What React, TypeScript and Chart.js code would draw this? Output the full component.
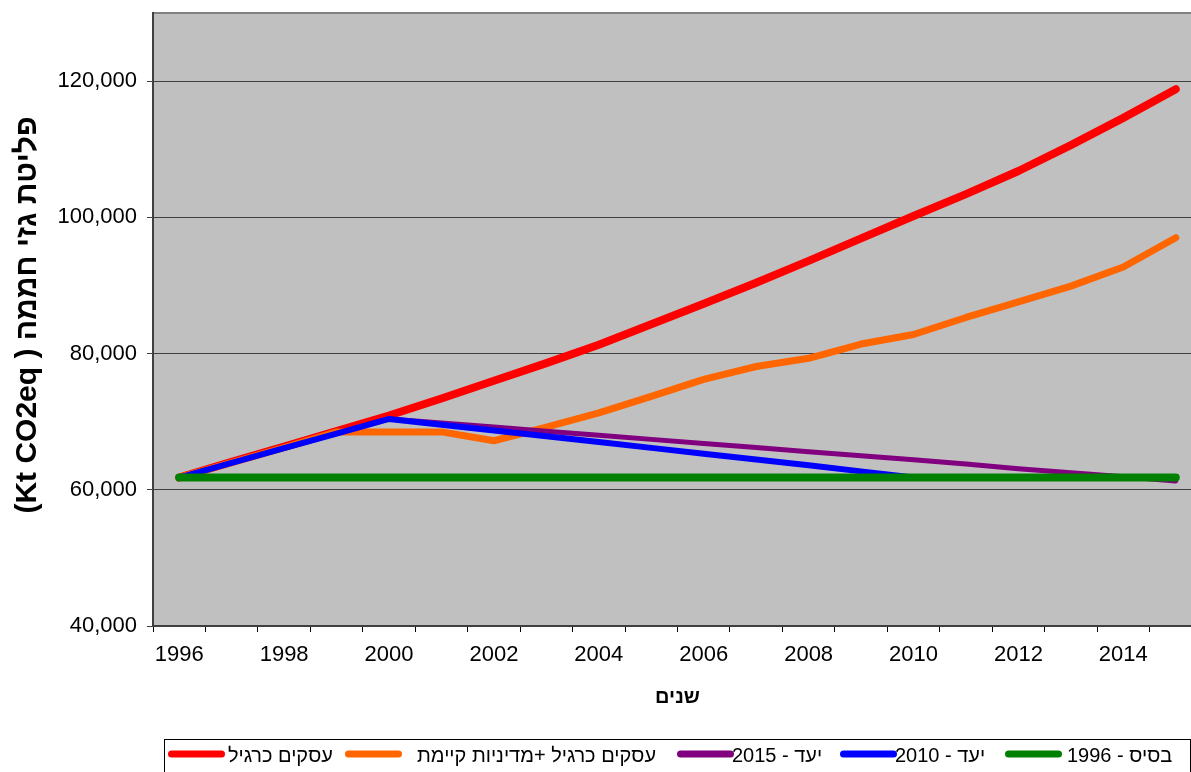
import React, { useEffect, useRef } from 'react';
import { Chart, registerables } from 'chart.js';

Chart.register(...registerables);

// ---- data ----
const years = ['1996', '1997', '1998', '1999', '2000', '2001', '2002', '2003', '2004', '2005',
  '2006', '2007', '2008', '2009', '2010', '2011', '2012', '2013', '2014', '2015'];

const bauValues = [61800, 64100, 66350, 68600, 70900, 73400, 76000, 78600, 81300, 84300,
  87300, 90400, 93600, 96900, 100200, 103400, 106800, 110600, 114600, 118800];

const bauPolicyValues = [61800, 64000, 66200, 68500, 68500, 68500, 67200, 69200, 71300, 73700,
  76200, 78100, 79300, 81400, 82800, 85300, 87600, 89900, 92700, 97000];

const target2015Values = [61800, 63950, 66100, 68250, 70400, 69800, 69200, 68600, 68000, 67400,
  66800, 66200, 65600, 65000, 64400, 63800, 63100, 62500, 61900, 61300];

const target2010Values = [61800, 63950, 66100, 68250, 70400, 69550, 68700, 67850, 67000, 66150,
  65300, 64450, 63600, 62700, 61800, 61800, 61800, 61800, 61800, 61800];

const base1996Values = [61800, 61800, 61800, 61800, 61800, 61800, 61800, 61800, 61800, 61800,
  61800, 61800, 61800, 61800, 61800, 61800, 61800, 61800, 61800, 61800];

const yTickValues = [40000, 60000, 80000, 100000, 120000];

const seriesLabels = ['עסקים כרגיל', 'עסקים כרגיל +מדיניות קיימת', 'יעד - 2015', 'יעד - 2010', 'בסיס - 1996'];
const yTitle = 'פליטת גזי חממה ( Kt CO2eq)';
const xTitle = 'שנים';

const FONT = '"Liberation Sans", Arial, sans-serif';

// legend layout (pixel positions of swatches and texts)
const legendSwatchX = [168, 345, 677, 840, 1005];
const legendTextX = [228, 417, 732, 895, 1067];

const decorPlugin = {
  id: 'decor',
  beforeDraw(chart: any) {
    const { ctx, chartArea } = chart;
    ctx.save();
    ctx.fillStyle = '#C0C0C0';
    ctx.fillRect(chartArea.left, chartArea.top, chartArea.right - chartArea.left, chartArea.bottom - chartArea.top);
    ctx.strokeStyle = '#808080';
    ctx.lineWidth = 2;
    ctx.strokeRect(chartArea.left, chartArea.top, chartArea.right - chartArea.left, chartArea.bottom - chartArea.top);
    ctx.restore();
  },
  afterDraw(chart: any) {
    const { ctx, chartArea } = chart;
    ctx.save();
    ctx.direction = 'rtl';
    ctx.fillStyle = '#000';
    ctx.font = 'bold 30px ' + FONT;
    ctx.textAlign = 'center';
    ctx.textBaseline = 'middle';
    ctx.translate(28, 315);
    ctx.rotate(-Math.PI / 2);
    ctx.fillText(yTitle, 0, 0);
    ctx.restore();

    ctx.save();
    ctx.direction = 'rtl';
    ctx.fillStyle = '#000';
    ctx.font = 'bold 20px ' + FONT;
    ctx.textAlign = 'center';
    ctx.textBaseline = 'middle';
    ctx.fillText(xTitle, (chartArea.left + chartArea.right) / 2, 697);
    ctx.restore();

    // legend
    ctx.save();
    ctx.fillStyle = '#fff';
    ctx.fillRect(164.5, 739.5, 1026, 50);
    ctx.strokeStyle = '#000';
    ctx.lineWidth = 1;
    ctx.strokeRect(164.5, 739.5, 1026, 50);
    ctx.font = '20px ' + FONT;
    ctx.direction = 'rtl';
    ctx.textAlign = 'left';
    ctx.textBaseline = 'middle';
    const ds = chart.data.datasets;
    for (let i = 0; i < ds.length; i++) {
      const x = legendSwatchX[i];
      ctx.strokeStyle = ds[i].borderColor;
      ctx.lineWidth = 7;
      ctx.lineCap = 'round';
      ctx.beginPath();
      ctx.moveTo(x + 3.5, 754);
      ctx.lineTo(x + 57 - 3.5, 754);
      ctx.stroke();
      ctx.fillStyle = '#000';
      ctx.fillText(ds[i].label, legendTextX[i], 756);
    }
    ctx.restore();
  },
};

export default function App() {
  const ref = useRef<HTMLCanvasElement>(null);
  useEffect(() => {
    const common = {
      pointRadius: 0,
      pointHoverRadius: 0,
      pointHitRadius: 0,
      tension: 0,
      fill: false,
      borderCapStyle: 'round' as const,
      borderJoinStyle: 'round' as const,
    };
    const chart = new Chart(ref.current!, {
      type: 'line',
      data: {
        labels: years,
        datasets: [
          { ...common, label: seriesLabels[0], data: bauValues, borderColor: '#FF0000', borderWidth: 8, order: 5 },
          { ...common, label: seriesLabels[1], data: bauPolicyValues, borderColor: '#FF6600', borderWidth: 7, order: 4 },
          { ...common, label: seriesLabels[2], data: target2015Values, borderColor: '#800080', borderWidth: 5, order: 3 },
          { ...common, label: seriesLabels[3], data: target2010Values, borderColor: '#0000FF', borderWidth: 6, order: 2 },
          { ...common, label: seriesLabels[4], data: base1996Values, borderColor: '#008000', borderWidth: 8, order: 1 },
        ],
      },
      options: {
        responsive: false,
        animation: false,
        events: [],
        layout: { autoPadding: false, padding: { top: 13, right: 8, left: 0, bottom: 0 } },
        plugins: { legend: { display: false }, tooltip: { enabled: false } },
        scales: {
          x: {
            type: 'category',
            offset: true,
            grid: { offset: true, drawOnChartArea: false, drawTicks: true, tickLength: 6, color: '#000' },
            border: { color: '#404040', width: 2 },
            ticks: {
              autoSkip: false,
              maxRotation: 0,
              minRotation: 0,
              padding: 10,
              color: '#000',
              font: { family: FONT, size: 22 },
              callback: (_v: any, i: number) => (i % 2 === 0 ? years[i] : ''),
            },
            afterFit: (s: any) => { s.height = 146; s.paddingLeft = 0; s.paddingRight = 0; },
          },
          y: {
            type: 'linear',
            min: 40000,
            max: 130000,
            grid: { color: '#404040', lineWidth: 1, tickLength: 6, drawTicks: true },
            border: { color: '#404040', width: 2 },
            ticks: {
              autoSkip: false,
              padding: 10,
              color: '#000',
              font: { family: FONT, size: 22 },
              callback: (v: any) => Number(v).toLocaleString('en-US'),
            },
            afterBuildTicks: (s: any) => { s.ticks = yTickValues.map((v) => ({ value: v })); },
            afterFit: (s: any) => { s.width = 153; s.paddingTop = 0; s.paddingBottom = 0; },
          },
        },
      },
      plugins: [decorPlugin],
    });
    return () => chart.destroy();
  }, []);
  return (
    <div style={{ position: 'fixed', left: 0, top: 0, width: 1191, height: 772, overflow: 'hidden', background: '#fff' }}>
      <canvas ref={ref} width={1210} height={772} style={{ display: 'block' }} />
    </div>
  );
}
